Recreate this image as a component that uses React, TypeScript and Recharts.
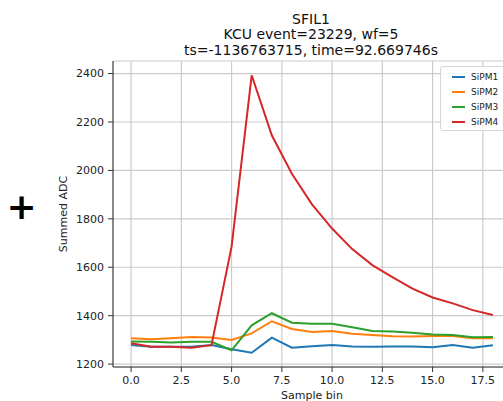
import React from "react";
import { LineChart, Line, XAxis, YAxis, CartesianGrid, Legend } from "recharts";

// sample bins 0..18
const sampleBins = [0, 1, 2, 3, 4, 5, 6, 7, 8, 9, 10, 11, 12, 13, 14, 15, 16, 17, 18];

const sipm1 = [1279, 1272, 1272, 1272, 1279, 1261, 1247, 1309, 1268, 1274, 1279, 1273, 1272, 1273, 1273, 1270, 1279, 1268, 1278];
const sipm2 = [1307, 1303, 1307, 1312, 1310, 1300, 1327, 1377, 1345, 1333, 1337, 1325, 1320, 1315, 1314, 1316, 1316, 1307, 1307];
const sipm3 = [1293, 1292, 1289, 1292, 1292, 1257, 1360, 1410, 1371, 1367, 1367, 1352, 1337, 1335, 1329, 1322, 1320, 1311, 1312];
const sipm4 = [1286, 1272, 1272, 1268, 1278, 1685, 2393, 2145, 1986, 1860, 1760, 1675, 1609, 1559, 1512, 1475, 1451, 1423, 1403];

const xTicks = [0, 2.5, 5, 7.5, 10, 12.5, 15, 17.5];
const yTicks = [1200, 1400, 1600, 1800, 2000, 2200, 2400];

const titleLines = ["SFIL1", "KCU event=23229, wf=5", "ts=-1136763715, time=92.669746s"];

const series = [
  { key: "SiPM1", color: "#1f77b4" },
  { key: "SiPM2", color: "#ff7f0e" },
  { key: "SiPM3", color: "#2ca02c" },
  { key: "SiPM4", color: "#d62728" },
];

const data = sampleBins.map((bin, i) => ({
  bin,
  SiPM1: sipm1[i],
  SiPM2: sipm2[i],
  SiPM3: sipm3[i],
  SiPM4: sipm4[i],
}));

const FONT = "'DejaVu Sans', sans-serif";
const tickStyle = { fill: "#222", fontSize: 11, fontFamily: FONT };

const renderLegend = () => (
  <div
    style={{
      border: "1px solid #d6d6d6",
      borderRadius: 3,
      background: "rgba(255,255,255,0.85)",
      padding: "2px 8px 1px 11px",
      width: 54,
      fontFamily: FONT,
      fontSize: 9,
      color: "#222",
    }}
  >
    {series.map((s) => (
      <div key={s.key} style={{ display: "flex", alignItems: "center", height: 15 }}>
        <span style={{ display: "inline-block", width: 13, height: 2, background: s.color, marginRight: 6 }} />
        <span>{s.key}</span>
      </div>
    ))}
  </div>
);

export default function App() {
  return (
    <div
      style={{
        position: "absolute",
        left: 0,
        top: 0,
        width: 503,
        height: 401,
        overflow: "hidden",
        background: "#fff",
        fontFamily: FONT,
      }}
    >
      <LineChart width={520} height={401} data={data} margin={{ top: 61, right: 9, bottom: 4, left: 53 }}>
        <CartesianGrid stroke="#cbcbcb" strokeWidth={1.2} />
        <XAxis
          dataKey="bin"
          type="number"
          domain={[-0.9, 18.9]}
          ticks={xTicks}
          allowDataOverflow
          tickFormatter={(v: number) => v.toFixed(1)}
          tick={tickStyle}
          tickSize={5}
          tickMargin={4}
          height={30}
          stroke="#333"
        />
        <XAxis
          xAxisId="top"
          orientation="top"
          dataKey="bin"
          type="number"
          domain={[-0.9, 18.9]}
          tick={false}
          tickLine={false}
          height={0}
          stroke="#333"
        />
        <YAxis
          type="number"
          domain={[1188, 2452]}
          ticks={yTicks}
          allowDataOverflow
          tick={tickStyle}
          tickSize={5}
          tickMargin={4}
          width={60}
          stroke="#333"
        />
        <Legend
          layout="horizontal"
          align="center"
          verticalAlign="middle"
          content={renderLegend}
          wrapperStyle={{ position: "absolute", left: 440, top: 66, width: "auto" }}
        />
        {series.map((s) => (
          <Line
            key={s.key}
            dataKey={s.key}
            stroke={s.color}
            strokeWidth={2}
            dot={false}
            isAnimationActive={false}
          />
        ))}
      </LineChart>
      <svg
        width={503}
        height={401}
        style={{ position: "absolute", left: 0, top: 0, pointerEvents: "none" }}
        fontFamily={FONT}
      >
        {titleLines.map((t, i) => (
          <text key={t} x={311} y={23.5 + i * 15.5} textAnchor="middle" fontSize={14} fill="#111">
            {t}
          </text>
        ))}
        <text x={312} y={399} textAnchor="middle" fontSize={11} fill="#222">
          Sample bin
        </text>
        <text
          transform="translate(63,214) rotate(-90)"
          textAnchor="middle"
          dominantBaseline="central"
          fontSize={11}
          fill="#222"
        >
          Summed ADC
        </text>
        <text x={21.5} y={219} textAnchor="middle" fontSize={36} fontWeight="bold" fill="#000">
          +
        </text>
      </svg>
    </div>
  );
}
